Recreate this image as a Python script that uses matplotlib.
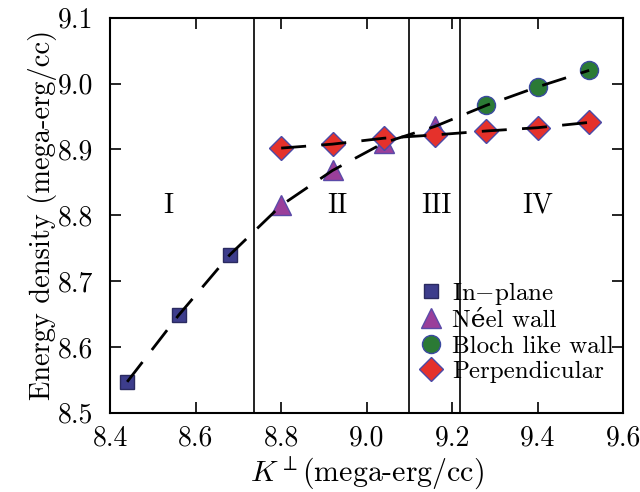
import matplotlib
matplotlib.use("Agg")
import matplotlib.pyplot as plt

plt.rcParams['font.family'] = ['cmr10', 'DejaVu Serif']
plt.rcParams['mathtext.fontset'] = 'cm'
plt.rcParams['axes.formatter.use_mathtext'] = True

# data
k_inplane = [8.44, 8.56, 8.68]
e_inplane = [8.547, 8.648, 8.740]
k_neel = [8.80, 8.92, 9.04, 9.16]
e_neel = [8.815, 8.868, 8.910, 8.935]
k_bloch = [9.28, 9.40, 9.52]
e_bloch = [8.967, 8.995, 9.020]
k_perp = [8.80, 8.92, 9.04, 9.16, 9.28, 9.40, 9.52]
e_perp = [8.902, 8.908, 8.917, 8.922, 8.928, 8.933, 8.941]

boundaries = [8.736, 9.098, 9.218]
region_names = ["I", "II", "III", "IV"]
region_x = [8.535, 8.932, 9.163, 9.40]
region_y = 8.815

fig = plt.figure(figsize=(6.4, 4.92), dpi=100)
ax = fig.add_axes([0.172, 0.161, 0.802, 0.803])

# dashed guide lines (drawn over the markers)
dash = (9, 5.5)
ax.plot(k_inplane + k_neel + k_bloch, e_inplane + e_neel + e_bloch,
        color='black', lw=2, dashes=dash, zorder=4)
ax.plot(k_perp, e_perp, color='black', lw=2, dashes=dash, zorder=4)

ax.plot(k_inplane, e_inplane, 's', ms=10, color='#3d3d8c', mec='#2a2a60',
        mew=1, ls='none', label='In$-$plane', zorder=3)
ax.plot(k_neel, e_neel, '^', ms=14, color='#9a3f9a', mec='#5b4aa8',
        mew=1, ls='none', label='Néel wall', zorder=3)
ax.plot(k_bloch, e_bloch, 'o', ms=13, color='#2b7a35', mec='#3a4aa0',
        mew=1, ls='none', label='Bloch like wall', zorder=3)
ax.plot(k_perp, e_perp, 'D', ms=12.5, color='#e5312b', mec='#4a4aa8',
        mew=1, ls='none', label='Perpendicular', zorder=3)

for b in boundaries:
    ax.axvline(b, color='#222222', lw=1.4, zorder=1)

for name, x in zip(region_names, region_x):
    ax.text(x, region_y, name, fontsize=20, ha='center', va='center')

ax.set_xlim(8.4, 9.6)
ax.set_ylim(8.5, 9.1)
ax.set_xticks([8.4, 8.6, 8.8, 9.0, 9.2, 9.4, 9.6])
ax.set_yticks([8.5, 8.6, 8.7, 8.8, 8.9, 9.0, 9.1])
ax.set_xticklabels(["8.4", "8.6", "8.8", "9.0", "9.2", "9.4", "9.6"])
ax.set_yticklabels(["8.5", "8.6", "8.7", "8.8", "8.9", "9.0", "9.1"])
ax.tick_params(direction='in', length=8, width=1.2, top=True, right=True,
               labelsize=20)
ax.tick_params(axis='x', pad=9)
ax.tick_params(axis='y', pad=12)
for s in ax.spines.values():
    s.set_linewidth(1.5)

ax.set_xlabel(r'$K^{\perp}$(mega-erg/cc)', fontsize=21.5, labelpad=2)
ax.set_ylabel('Energy density (mega-erg/cc)', fontsize=20.5, labelpad=1)

ax.legend(loc='lower left', bbox_to_anchor=(0.6, 0.075), frameon=False,
          fontsize=18, handletextpad=0.35, borderpad=0, labelspacing=0.12,
          handlelength=1.0, borderaxespad=0)

fig.savefig('out.png', dpi=100)
